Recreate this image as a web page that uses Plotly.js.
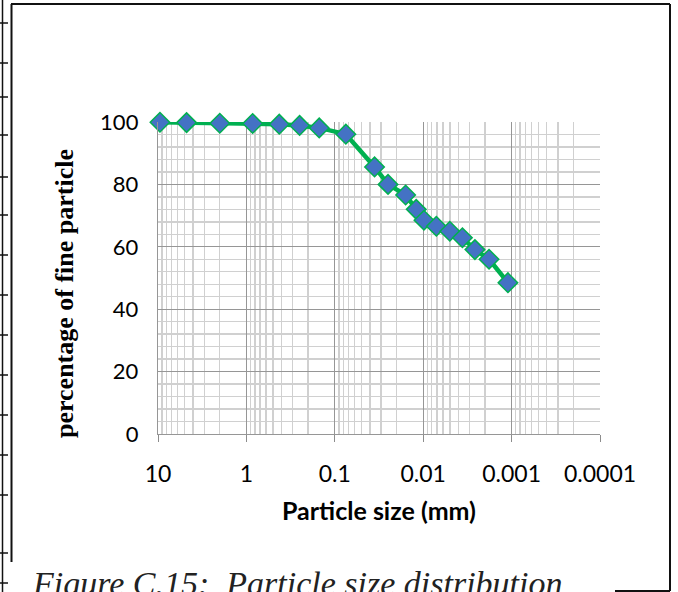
<!DOCTYPE html>
<html>
<head>
<meta charset="utf-8">
<script src="https://cdn.plot.ly/plotly-3.0.1.min.js"></script>
<style>html,body{margin:0;padding:0;background:#fff;}#chart{width:678px;height:592px;}</style>
</head>
<body>
<div id="chart"></div>
<script>
// Particle size (mm) and percentage finer
const particleSize = [9.5, 4.75, 2.0, 0.85, 0.425, 0.25, 0.15, 0.075, 0.0355, 0.025, 0.0158, 0.012, 0.0098, 0.0071, 0.0050, 0.0036, 0.0026, 0.0018, 0.0011];
const percentFiner = [99.9, 99.8, 99.6, 99.5, 99.3, 98.9, 98.1, 96.1, 85.6, 80.0, 76.6, 72.0, 68.5, 66.6, 65.0, 62.9, 59.1, 56.0, 48.5];
const xTickVals = [10, 1, 0.1, 0.01, 0.001, 0.0001];
const xTickText = ['10', '1', '0.1', '0.01', '0.001', '0.0001'];
const xTitle = 'Particle size (mm)';
const yTitle = 'percentage of fine particle';
const caption = 'Figure C.15:  Particle size distribution';

// minor grid positions (2..9 in every decade)
const minorX = [];
for (let e = -4; e < 1; e++) {
  for (let m = 2; m <= 9; m++) minorX.push(+(m * Math.pow(10, e)).toPrecision(3));
}

const W = 678, H = 592;
const M = {l: 158, r: 78, t: 122, b: 158};
const pw = W - M.l - M.r, ph = H - M.t - M.b;
const px = x => (x - M.l) / pw;
const py = y => (H - M.b - y) / ph;

const frame = {type: 'line', xref: 'paper', yref: 'paper', line: {color: '#111', width: 2}};
const shapes = [
  Object.assign({}, frame, {x0: px(11), x1: px(670), y0: py(4), y1: py(4)}),
  Object.assign({}, frame, {x0: px(11.5), x1: px(11.5), y0: py(4), y1: py(562)}),
  Object.assign({}, frame, {x0: px(670), x1: px(670), y0: py(4), y1: py(591)}),
  Object.assign({}, frame, {x0: px(615), x1: px(670), y0: py(591), y1: py(591)}),
  Object.assign({}, frame, {x0: px(2.5), x1: px(2.5), y0: py(0), y1: py(592), line: {color: '#111', width: 1.5}})
];
const edgeTicks = [23, 63, 97, 135, 177, 215, 255, 295, 335, 375, 415, 455, 495, 553, 583];
edgeTicks.forEach(y => shapes.push(Object.assign({}, frame, {x0: px(0), x1: px(8), y0: py(y), y1: py(y), line: {color: '#111', width: 1.5}})));

const trace = {
  x: particleSize,
  y: percentFiner,
  type: 'scatter',
  mode: 'lines+markers',
  cliponaxis: false,
  line: {color: '#00B050', width: 4.5},
  marker: {symbol: 'diamond', size: 15, color: '#4472C4', line: {color: '#00B050', width: 1.5}},
  hoverinfo: 'skip'
};

const sans = 'Lato, "Open Sans", sans-serif';
const serif = '"Liberation Serif", "Times New Roman", serif';

const layout = {
  width: W, height: H,
  margin: M,
  paper_bgcolor: '#fff', plot_bgcolor: '#fff',
  showlegend: false,
  xaxis: {
    type: 'log', autorange: false, range: [1, -4],
    tickmode: 'array', tickvals: xTickVals, ticktext: xTickText,
    ticks: 'outside', ticklen: 7, tickcolor: '#8c8c8c', tickwidth: 1,
    ticklabelstandoff: 12,
    showgrid: true, gridcolor: '#969696', gridwidth: 1.2,
    showline: true, linecolor: '#969696', linewidth: 1.2,
    zeroline: false,
    minor: {tickmode: 'array', tickvals: minorX, showgrid: true, gridcolor: '#d0d0d0', gridwidth: 1.4, ticks: ''},
    tickfont: {family: sans, size: 23, color: '#000'}
  },
  yaxis: {
    range: [0, 100], autorange: false,
    tickmode: 'linear', tick0: 0, dtick: 20,
    ticks: '', ticklabelstandoff: 14,
    showgrid: true, gridcolor: '#969696', gridwidth: 1.2,
    showline: true, linecolor: '#969696', linewidth: 1.2,
    zeroline: false,
    minor: {dtick: 4, showgrid: true, gridcolor: '#d0d0d0', gridwidth: 1.4, ticks: ''},
    tickfont: {family: sans, size: 22, color: '#000'}
  },
  shapes: shapes,
  annotations: [
    {
      xref: 'paper', yref: 'paper', x: 0.5, y: py(510),
      xanchor: 'center', yanchor: 'middle', showarrow: false,
      text: '<b>' + xTitle + '</b>',
      font: {family: sans, size: 25, color: '#000'}
    },
    {
      xref: 'paper', yref: 'paper', x: px(64), y: py(294), textangle: -90,
      xanchor: 'center', yanchor: 'middle', showarrow: false,
      text: '<b>' + yTitle + '</b>',
      font: {family: serif, size: 26, color: '#000'}
    },
    {
      xref: 'paper', yref: 'paper', x: px(30), y: py(563),
      xanchor: 'left', yanchor: 'top', showarrow: false,
      text: '<i>' + caption + '</i>',
      font: {family: serif, size: 34, color: '#222'}
    }
  ]
};

Plotly.newPlot('chart', [trace], layout, {displayModeBar: false, staticPlot: true});
</script>
</body>
</html>
